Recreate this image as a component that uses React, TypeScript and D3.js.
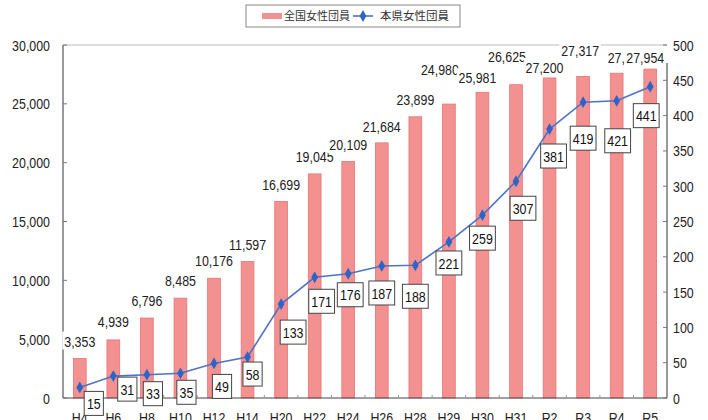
import React from "react";
import * as d3 from "d3";

const categories = ["H4","H6","H8","H10","H12","H14","H20","H22","H24","H26","H28","H29","H30","H31","R2","R3","R4","R5"];
const nationalValues = [3353,4939,6796,8485,10176,11597,16699,19045,20109,21684,23899,24980,25981,26625,27200,27317,27603,27954];
const prefValues = [15,31,33,35,49,58,133,171,176,187,188,221,259,307,381,419,421,441];
const leftTicks = [0,5000,10000,15000,20000,25000,30000];
const rightTicks = [0,50,100,150,200,250,300,350,400,450,500];
const seriesNames = ["全国女性団員","本県女性団員"];

// label placement (layout only)
const barLabelDx = [0,0,0,0,0,0,0,0,0,0,0,-9,-5,-9,-5,-3,10,-5];
const barLabelDy = [-12,-13,-12,-12,-12,-12,-12,-12,-11,-11,-12,-29,-9,-23,-5,-21,-10,-6];
const lineLabelDx = [14,14,6,6,8,5,12,7,2,0,0,0,0,7,4,0,1,-4];
const lineLabelDy = [16,13,19,19,23,17,28,24,21,27,31,21,23,27,27,36,40,29];

const W = 708, H = 420;
const L = 63, R = 667, T = 45, B = 398;
const FONT = "'Liberation Sans', Arial, sans-serif";
const CJK = "'Noto Sans CJK JP', sans-serif";
const SX = 0.8;

function Txt(props: { x: number; y: number; anchor?: string; dy?: string; size?: number; fill?: string; children: React.ReactNode }) {
  const { x, y, anchor = "middle", dy, size = 15.5, fill = "#222", children } = props;
  return (
    <text transform={`translate(${x},${y}) scale(${SX},1)`} dy={dy} textAnchor={anchor}
      fontFamily={FONT} fontSize={size} fill={fill}>{children}</text>
  );
}

export default function App() {
  const x = d3.scaleBand<string>().domain(categories).range([L, R]).paddingInner(0.62).paddingOuter(0.31);
  const step = x.step();
  const cx = (c: string) => (x(c) as number) + x.bandwidth() / 2;
  const yL = d3.scaleLinear().domain([0, 30000]).range([B, T]);
  const yR = d3.scaleLinear().domain([0, 500]).range([B, T]);
  const fmt = d3.format(",");
  const line = d3.line<number>().x((_, i) => cx(categories[i])).y(d => yR(d));
  const diamond = d3.symbol().type(d3.symbolDiamond).size(40)() as string;
  const tw = (s: string) => s.length * 6.6;

  return (
    <div style={{ position: "fixed", left: 0, top: 0 }}>
      <svg width={W} height={H} style={{ display: "block", background: "#fff" }}>
        {/* top border */}
        <line x1={L} x2={R} y1={T} y2={T} stroke="#bbb" strokeWidth={1} />
        {/* bars */}
        {categories.map((c, i) => (
          <rect key={c} x={x(c)} y={yL(nationalValues[i])} width={x.bandwidth()} height={B - yL(nationalValues[i])}
            fill="#f39191" stroke="#e87474" strokeWidth={0.8} />
        ))}
        {/* axes */}
        <line x1={L} x2={L} y1={T} y2={B} stroke="#555" strokeWidth={1.2} />
        <line x1={R} x2={R} y1={T + 18} y2={B} stroke="#555" strokeWidth={1.2} />
        <line x1={L} x2={R} y1={B} y2={B} stroke="#444" strokeWidth={1.2} />
        {leftTicks.map(t => (
          <g key={t}>
            <line x1={L} x2={L + 4} y1={yL(t)} y2={yL(t)} stroke="#777" />
            <Txt x={50} y={yL(t)} dy="0.36em" anchor="end">{fmt(t)}</Txt>
          </g>
        ))}
        {rightTicks.map(t => (
          <g key={t}>
            <line x1={R - 4} x2={R} y1={yR(t)} y2={yR(t)} stroke="#777" />
            <Txt x={673} y={yR(t)} dy="0.36em" anchor="start">{t}</Txt>
          </g>
        ))}
        {categories.slice(1).map(c => (
          <line key={c} x1={(x(c) as number) - step * 0.31} x2={(x(c) as number) - step * 0.31} y1={B} y2={B - 3} stroke="#999" />
        ))}
        {categories.map(c => (
          <Txt key={c} x={cx(c)} y={423}>{c}</Txt>
        ))}
        {/* line series */}
        <path d={line(prefValues) as string} fill="none" stroke="#4d72c6" strokeWidth={1.6} />
        {prefValues.map((v, i) => (
          <path key={i} d={diamond} transform={`translate(${cx(categories[i])},${yR(v)})`} fill="#2e63c8" />
        ))}
        {/* bar labels */}
        {nationalValues.map((v, i) => {
          const s = fmt(v);
          const lx = cx(categories[i]) + barLabelDx[i];
          const ly = yL(v) + barLabelDy[i];
          const w = tw(s);
          return (
            <g key={i}>
              <rect x={lx - w / 2 - 1} y={ly - 15} width={w + 2} height={18} fill="#fff" />
              <Txt x={lx} y={ly}>{s}</Txt>
            </g>
          );
        })}
        {/* line labels */}
        {prefValues.map((v, i) => {
          const s = String(v);
          const lx = cx(categories[i]) + lineLabelDx[i];
          const ly = yR(v) + lineLabelDy[i];
          const w = tw(s) + 6;
          const h = 24;
          return (
            <g key={i}>
              <rect x={lx - w / 2} y={ly - h / 2} width={w} height={h} fill="#fff" stroke="#444" strokeWidth={1} />
              <Txt x={lx} y={ly} dy="0.36em" fill="#111">{s}</Txt>
            </g>
          );
        })}
        {/* legend */}
        <rect x={246} y={5} width={214} height={22} fill="#fff" stroke="#888" strokeWidth={1} />
        <rect x={262} y={13} width={20} height={6} fill="#f39191" />
        <text x={284} y={16} dy="0.36em" fontFamily={CJK} fontSize={11} fill="#333">{seriesNames[0]}</text>
        <line x1={353} x2={373} y1={16} y2={16} stroke="#4d72c6" strokeWidth={1.6} />
        <path d={diamond} transform="translate(363,16)" fill="#2e63c8" />
        <text x={380} y={16} dy="0.36em" fontFamily={CJK} fontSize={11.5} fill="#333">{seriesNames[1]}</text>
      </svg>
    </div>
  );
}
